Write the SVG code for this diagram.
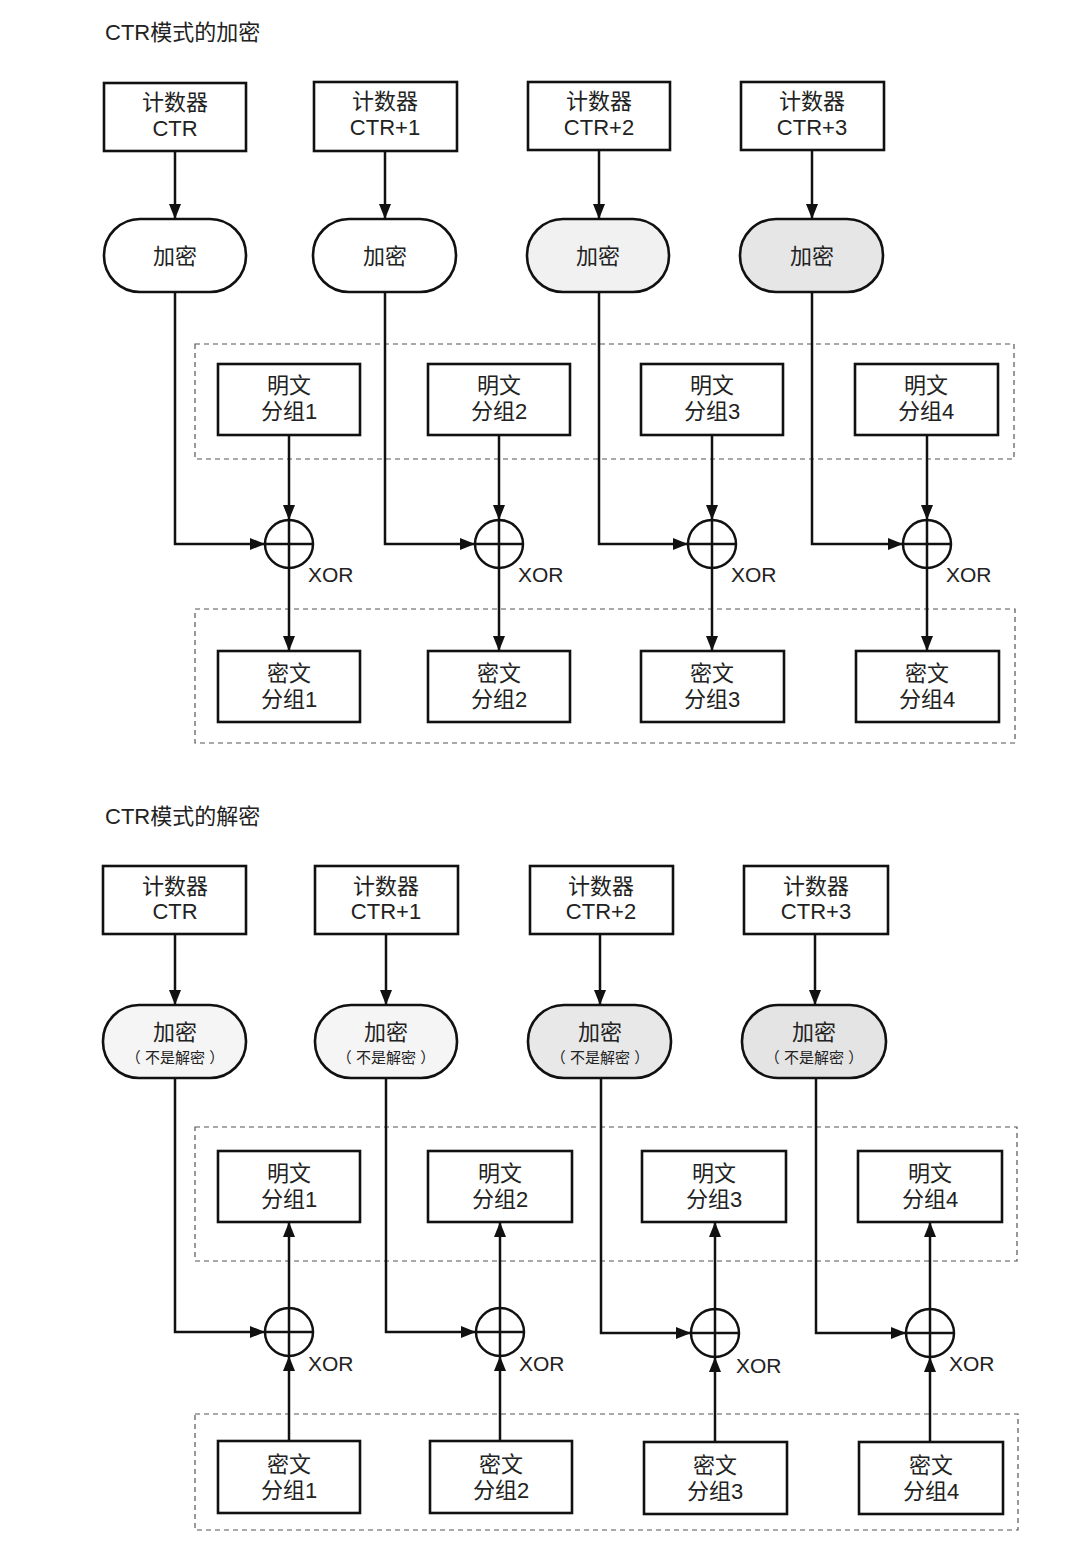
<svg xmlns="http://www.w3.org/2000/svg" width="1085" height="1558" viewBox="0 0 1085 1558">
<style>
text{font-family:"Liberation Sans","Noto Sans CJK SC",sans-serif;fill:#222;}
.t{font-size:22px;}
.x{font-size:21px;}
.lbl{font-size:22px;text-anchor:middle;}
.sm{font-size:15px;text-anchor:middle;}
.box{fill:#fff;stroke:#111;stroke-width:2.6;}
.pill{stroke:#111;stroke-width:2.6;}
.dash{fill:none;stroke:#555;stroke-width:1.2;stroke-dasharray:5,4;}
.ln{fill:none;stroke:#111;stroke-width:2.5;}
.xc{fill:#fff;stroke:#111;stroke-width:2.5;}
</style>
<defs>
<marker id="ah" markerUnits="userSpaceOnUse" markerWidth="16" markerHeight="12" refX="15" refY="6" orient="auto">
<path d="M0,0 L15,6 L0,12 z" fill="#111"/>
</marker>
</defs>
<rect width="1085" height="1558" fill="#fff"/>

<text id="title1" class="t" x="105" y="40">CTR模式的加密</text>
<text id="title2" class="t" x="105" y="824">CTR模式的解密</text>

<g id="groups">
<rect class="dash" x="195" y="344" width="819" height="115"/>
<rect class="dash" x="195" y="609" width="820" height="134"/>
<rect class="dash" x="195" y="1127" width="822" height="134"/>
<rect class="dash" x="195" y="1414" width="823" height="116"/>
</g>

<g id="connectors">
<line class="ln" x1="175" y1="151" x2="175" y2="219" marker-end="url(#ah)"/>
<line class="ln" x1="385" y1="151" x2="385" y2="219" marker-end="url(#ah)"/>
<line class="ln" x1="599" y1="150" x2="599" y2="219" marker-end="url(#ah)"/>
<line class="ln" x1="812" y1="150" x2="812" y2="219" marker-end="url(#ah)"/>
<path class="ln" d="M175,292 V544 H265" marker-end="url(#ah)"/>
<path class="ln" d="M385,292 V544 H475" marker-end="url(#ah)"/>
<path class="ln" d="M599,292 V544 H688" marker-end="url(#ah)"/>
<path class="ln" d="M812,292 V544 H903" marker-end="url(#ah)"/>
<line class="ln" x1="289" y1="435" x2="289" y2="520" marker-end="url(#ah)"/>
<line class="ln" x1="499" y1="435" x2="499" y2="520" marker-end="url(#ah)"/>
<line class="ln" x1="712" y1="435" x2="712" y2="520" marker-end="url(#ah)"/>
<line class="ln" x1="927" y1="435" x2="927" y2="520" marker-end="url(#ah)"/>
<line class="ln" x1="289" y1="568" x2="289" y2="651" marker-end="url(#ah)"/>
<line class="ln" x1="499" y1="568" x2="499" y2="651" marker-end="url(#ah)"/>
<line class="ln" x1="712" y1="568" x2="712" y2="651" marker-end="url(#ah)"/>
<line class="ln" x1="927" y1="568" x2="927" y2="651" marker-end="url(#ah)"/>
<line class="ln" x1="175" y1="934" x2="175" y2="1005" marker-end="url(#ah)"/>
<line class="ln" x1="386" y1="934" x2="386" y2="1005" marker-end="url(#ah)"/>
<line class="ln" x1="600" y1="934" x2="600" y2="1005" marker-end="url(#ah)"/>
<line class="ln" x1="815" y1="934" x2="815" y2="1005" marker-end="url(#ah)"/>
<path class="ln" d="M175,1078 V1332 H265" marker-end="url(#ah)"/>
<path class="ln" d="M386,1078 V1332 H476" marker-end="url(#ah)"/>
<path class="ln" d="M601,1078 V1333 H691" marker-end="url(#ah)"/>
<path class="ln" d="M816,1078 V1333 H906" marker-end="url(#ah)"/>
<line class="ln" x1="289" y1="1308" x2="289" y2="1222" marker-end="url(#ah)"/>
<line class="ln" x1="500" y1="1308" x2="500" y2="1222" marker-end="url(#ah)"/>
<line class="ln" x1="715" y1="1309" x2="715" y2="1222" marker-end="url(#ah)"/>
<line class="ln" x1="930" y1="1309" x2="930" y2="1222" marker-end="url(#ah)"/>
<line class="ln" x1="289" y1="1441" x2="289" y2="1356" marker-end="url(#ah)"/>
<line class="ln" x1="500" y1="1441" x2="500" y2="1356" marker-end="url(#ah)"/>
<line class="ln" x1="715" y1="1442" x2="715" y2="1357" marker-end="url(#ah)"/>
<line class="ln" x1="930" y1="1442" x2="930" y2="1357" marker-end="url(#ah)"/>
</g>

<g id="ctr1"><rect class="box" x="104" y="83" width="142" height="68"/><text class="lbl" x="175" y="110">计数器</text><text class="lbl" x="175" y="136">CTR</text></g>
<g id="ctr2"><rect class="box" x="314" y="82" width="143" height="69"/><text class="lbl" x="385" y="109">计数器</text><text class="lbl" x="385" y="135">CTR+1</text></g>
<g id="ctr3"><rect class="box" x="528" y="82" width="142" height="68"/><text class="lbl" x="599" y="109">计数器</text><text class="lbl" x="599" y="135">CTR+2</text></g>
<g id="ctr4"><rect class="box" x="741" y="82" width="143" height="68"/><text class="lbl" x="812" y="109">计数器</text><text class="lbl" x="812" y="135">CTR+3</text></g>

<g id="enc1"><rect class="pill" fill="#fff" x="104" y="219" width="142" height="73" rx="36"/><text class="lbl" x="175" y="264">加密</text></g>
<g id="enc2"><rect class="pill" fill="#fff" x="313" y="219" width="143" height="73" rx="36"/><text class="lbl" x="385" y="264">加密</text></g>
<g id="enc3"><rect class="pill" fill="#f1f1f1" x="527" y="219" width="142" height="73" rx="36"/><text class="lbl" x="598" y="264">加密</text></g>
<g id="enc4"><rect class="pill" fill="#e6e6e6" x="740" y="219" width="143" height="73" rx="36"/><text class="lbl" x="812" y="264">加密</text></g>

<g id="pt1"><rect class="box" x="218" y="364" width="142" height="71"/><text class="lbl" x="289" y="393">明文</text><text class="lbl" x="289" y="419">分组1</text></g>
<g id="pt2"><rect class="box" x="428" y="364" width="142" height="71"/><text class="lbl" x="499" y="393">明文</text><text class="lbl" x="499" y="419">分组2</text></g>
<g id="pt3"><rect class="box" x="641" y="364" width="142" height="71"/><text class="lbl" x="712" y="393">明文</text><text class="lbl" x="712" y="419">分组3</text></g>
<g id="pt4"><rect class="box" x="855" y="364" width="143" height="71"/><text class="lbl" x="926" y="393">明文</text><text class="lbl" x="926" y="419">分组4</text></g>

<g id="xor1"><circle class="xc" cx="289" cy="544" r="24"/><path class="ln" d="M265,544 H313 M289,520 V568"/><text class="x" x="308" y="582">XOR</text></g>
<g id="xor2"><circle class="xc" cx="499" cy="544" r="24"/><path class="ln" d="M475,544 H523 M499,520 V568"/><text class="x" x="518" y="582">XOR</text></g>
<g id="xor3"><circle class="xc" cx="712" cy="544" r="24"/><path class="ln" d="M688,544 H736 M712,520 V568"/><text class="x" x="731" y="582">XOR</text></g>
<g id="xor4"><circle class="xc" cx="927" cy="544" r="24"/><path class="ln" d="M903,544 H951 M927,520 V568"/><text class="x" x="946" y="582">XOR</text></g>

<g id="ct1"><rect class="box" x="218" y="651" width="142" height="71"/><text class="lbl" x="289" y="681">密文</text><text class="lbl" x="289" y="707">分组1</text></g>
<g id="ct2"><rect class="box" x="428" y="651" width="142" height="71"/><text class="lbl" x="499" y="681">密文</text><text class="lbl" x="499" y="707">分组2</text></g>
<g id="ct3"><rect class="box" x="641" y="651" width="143" height="71"/><text class="lbl" x="712" y="681">密文</text><text class="lbl" x="712" y="707">分组3</text></g>
<g id="ct4"><rect class="box" x="856" y="651" width="143" height="71"/><text class="lbl" x="927" y="681">密文</text><text class="lbl" x="927" y="707">分组4</text></g>

<g id="dctr1"><rect class="box" x="103" y="866" width="143" height="68"/><text class="lbl" x="175" y="894">计数器</text><text class="lbl" x="175" y="919">CTR</text></g>
<g id="dctr2"><rect class="box" x="315" y="866" width="143" height="68"/><text class="lbl" x="386" y="894">计数器</text><text class="lbl" x="386" y="919">CTR+1</text></g>
<g id="dctr3"><rect class="box" x="530" y="866" width="143" height="68"/><text class="lbl" x="601" y="894">计数器</text><text class="lbl" x="601" y="919">CTR+2</text></g>
<g id="dctr4"><rect class="box" x="744" y="866" width="144" height="68"/><text class="lbl" x="816" y="894">计数器</text><text class="lbl" x="816" y="919">CTR+3</text></g>

<g id="denc1"><rect class="pill" fill="#f5f5f5" x="103" y="1005" width="143" height="73" rx="36"/><text class="lbl" x="175" y="1040">加密</text><text class="sm" x="175" y="1063">（ 不是解密 ）</text></g>
<g id="denc2"><rect class="pill" fill="#f5f5f5" x="315" y="1005" width="142" height="73" rx="36"/><text class="lbl" x="386" y="1040">加密</text><text class="sm" x="386" y="1063">（ 不是解密 ）</text></g>
<g id="denc3"><rect class="pill" fill="#e8e8e8" x="528" y="1005" width="143" height="73" rx="36"/><text class="lbl" x="600" y="1040">加密</text><text class="sm" x="600" y="1063">（ 不是解密 ）</text></g>
<g id="denc4"><rect class="pill" fill="#e4e4e4" x="742" y="1005" width="144" height="73" rx="36"/><text class="lbl" x="814" y="1040">加密</text><text class="sm" x="814" y="1063">（ 不是解密 ）</text></g>

<g id="dpt1"><rect class="box" x="218" y="1151" width="142" height="71"/><text class="lbl" x="289" y="1181">明文</text><text class="lbl" x="289" y="1207">分组1</text></g>
<g id="dpt2"><rect class="box" x="428" y="1151" width="144" height="71"/><text class="lbl" x="500" y="1181">明文</text><text class="lbl" x="500" y="1207">分组2</text></g>
<g id="dpt3"><rect class="box" x="642" y="1151" width="144" height="71"/><text class="lbl" x="714" y="1181">明文</text><text class="lbl" x="714" y="1207">分组3</text></g>
<g id="dpt4"><rect class="box" x="858" y="1151" width="144" height="71"/><text class="lbl" x="930" y="1181">明文</text><text class="lbl" x="930" y="1207">分组4</text></g>

<g id="dxor1"><circle class="xc" cx="289" cy="1332" r="24"/><path class="ln" d="M265,1332 H313 M289,1308 V1356"/><text class="x" x="308" y="1371">XOR</text></g>
<g id="dxor2"><circle class="xc" cx="500" cy="1332" r="24"/><path class="ln" d="M476,1332 H524 M500,1308 V1356"/><text class="x" x="519" y="1371">XOR</text></g>
<g id="dxor3"><circle class="xc" cx="715" cy="1333" r="24"/><path class="ln" d="M691,1333 H739 M715,1309 V1357"/><text class="x" x="736" y="1373">XOR</text></g>
<g id="dxor4"><circle class="xc" cx="930" cy="1333" r="24"/><path class="ln" d="M906,1333 H954 M930,1309 V1357"/><text class="x" x="949" y="1371">XOR</text></g>

<g id="dct1"><rect class="box" x="218" y="1441" width="142" height="72"/><text class="lbl" x="289" y="1472">密文</text><text class="lbl" x="289" y="1498">分组1</text></g>
<g id="dct2"><rect class="box" x="430" y="1441" width="142" height="72"/><text class="lbl" x="501" y="1472">密文</text><text class="lbl" x="501" y="1498">分组2</text></g>
<g id="dct3"><rect class="box" x="644" y="1442" width="143" height="72"/><text class="lbl" x="715" y="1473">密文</text><text class="lbl" x="715" y="1499">分组3</text></g>
<g id="dct4"><rect class="box" x="859" y="1442" width="144" height="72"/><text class="lbl" x="931" y="1473">密文</text><text class="lbl" x="931" y="1499">分组4</text></g>
</svg>
